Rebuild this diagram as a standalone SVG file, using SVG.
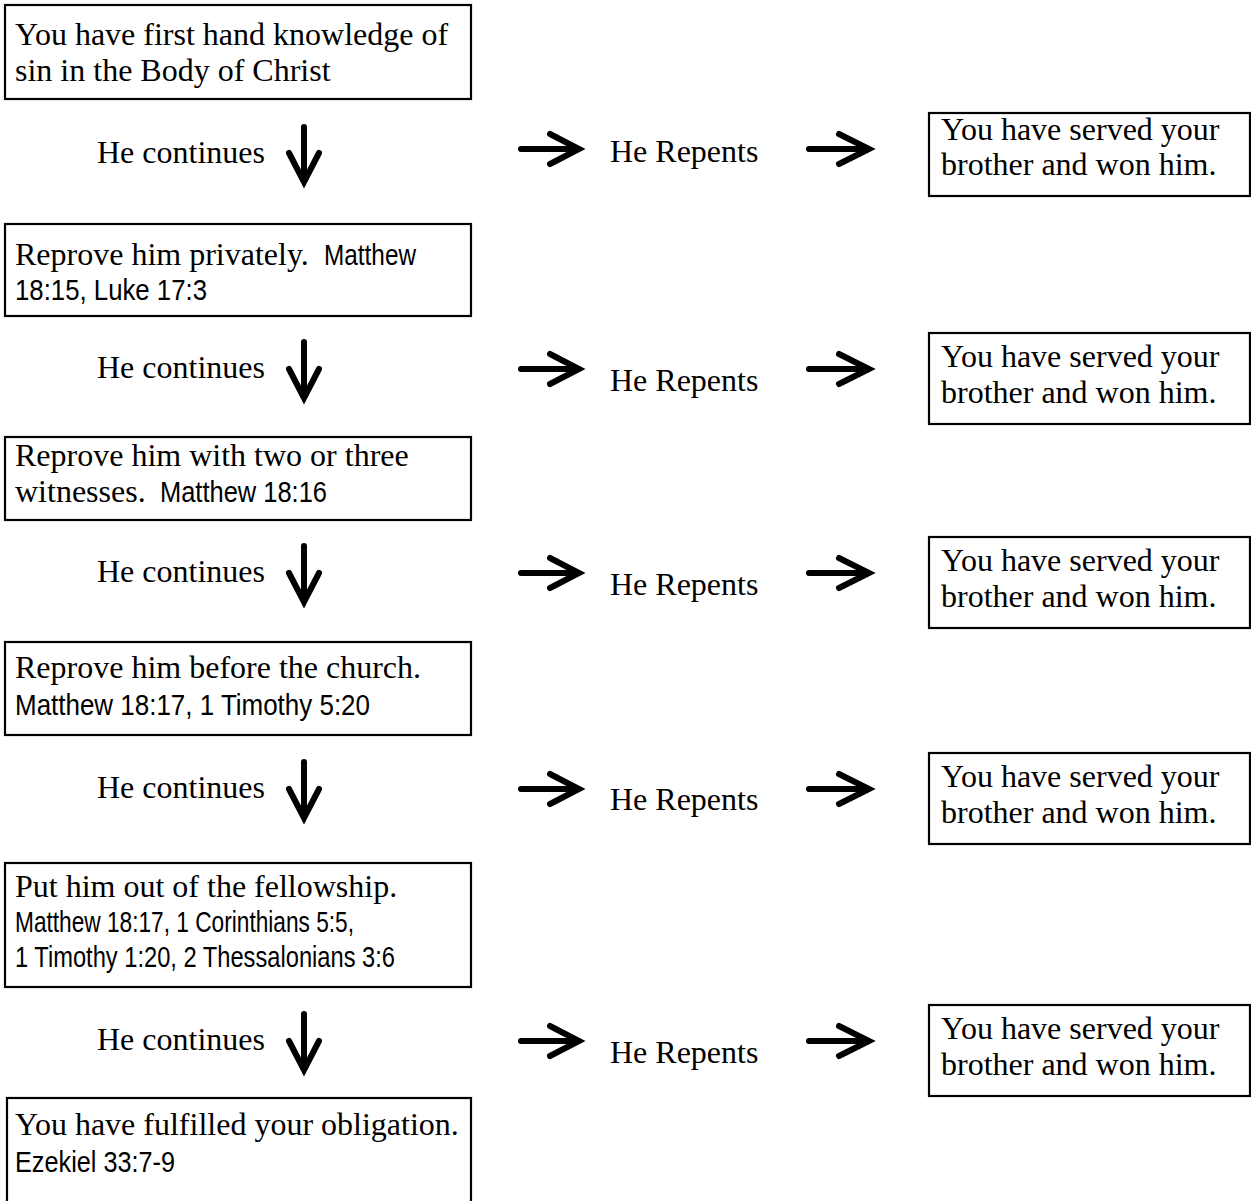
<svg xmlns="http://www.w3.org/2000/svg" width="1251" height="1201" viewBox="0 0 1251 1201">
<style>
.box{fill:#fff;stroke:#000;stroke-width:2.2}
.s{font-family:"Liberation Serif","Times New Roman",serif;font-size:32px;fill:#000}
.a{font-family:"Liberation Sans",Arial,sans-serif;font-size:29px;fill:#000}
.arr{fill:none;stroke:#000;stroke-width:6;stroke-linecap:round;stroke-linejoin:miter}
</style>
<rect width="1251" height="1201" fill="#fff"/>
<g id="box1"><rect class="box" x="5" y="5" width="466" height="94"/>
<text class="s" x="15" y="45">You have first hand knowledge of</text>
<text class="s" x="15" y="81">sin in the Body of Christ</text></g>
<g id="box2"><rect class="box" x="5" y="224" width="466" height="92"/>
<text class="s" x="15" y="265">Reprove him privately.</text>
<text class="a" x="324" y="265" textLength="92" lengthAdjust="spacingAndGlyphs">Matthew</text>
<text class="a" x="15" y="300" textLength="192" lengthAdjust="spacingAndGlyphs">18:15, Luke 17:3</text></g>
<g id="box3"><rect class="box" x="5" y="437" width="466" height="83"/>
<text class="s" x="15" y="466">Reprove him with two or three</text>
<text class="s" x="15" y="502">witnesses.</text>
<text class="a" x="160" y="502" textLength="167" lengthAdjust="spacingAndGlyphs">Matthew 18:16</text></g>
<g id="box4"><rect class="box" x="5" y="642" width="466" height="93"/>
<text class="s" x="15" y="678">Reprove him before the church.</text>
<text class="a" x="15" y="715" textLength="355" lengthAdjust="spacingAndGlyphs">Matthew 18:17, 1 Timothy 5:20</text></g>
<g id="box5"><rect class="box" x="5" y="863" width="466" height="124"/>
<text class="s" x="15" y="897">Put him out of the fellowship.</text>
<text class="a" x="15" y="932" textLength="339" lengthAdjust="spacingAndGlyphs">Matthew 18:17, 1 Corinthians 5:5,</text>
<text class="a" x="15" y="967" textLength="380" lengthAdjust="spacingAndGlyphs">1 Timothy 1:20, 2 Thessalonians 3:6</text></g>
<g id="box6"><rect class="box" x="7" y="1098" width="464" height="120"/>
<text class="s" x="15" y="1135">You have fulfilled your obligation.</text>
<text class="a" x="15" y="1172" textLength="160" lengthAdjust="spacingAndGlyphs">Ezekiel 33:7-9</text></g>
<g id="won1"><rect class="box" x="929" y="113" width="321" height="83"/>
<text class="s" x="941" y="140">You have served your</text>
<text class="s" x="941" y="175">brother and won him.</text></g>
<g id="won2"><rect class="box" x="929" y="333" width="321" height="91"/>
<text class="s" x="941" y="367">You have served your</text>
<text class="s" x="941" y="403">brother and won him.</text></g>
<g id="won3"><rect class="box" x="929" y="537" width="321" height="91"/>
<text class="s" x="941" y="571">You have served your</text>
<text class="s" x="941" y="607">brother and won him.</text></g>
<g id="won4"><rect class="box" x="929" y="753" width="321" height="91"/>
<text class="s" x="941" y="787">You have served your</text>
<text class="s" x="941" y="823">brother and won him.</text></g>
<g id="won5"><rect class="box" x="929" y="1005" width="321" height="91"/>
<text class="s" x="941" y="1039">You have served your</text>
<text class="s" x="941" y="1075">brother and won him.</text></g>
<g id="labels">
<text class="s" x="97" y="163">He continues</text>
<text class="s" x="610" y="162">He Repents</text>
<text class="s" x="97" y="378">He continues</text>
<text class="s" x="610" y="391">He Repents</text>
<text class="s" x="97" y="582">He continues</text>
<text class="s" x="610" y="595">He Repents</text>
<text class="s" x="97" y="798">He continues</text>
<text class="s" x="610" y="810">He Repents</text>
<text class="s" x="97" y="1050">He continues</text>
<text class="s" x="610" y="1063">He Repents</text>
</g>
<g id="connectors">
<path class="arr" d="M304 127V181M289 153L304 182L319 153"/>
<path class="arr" d="M521 149H576M550 134L579 149L550 164"/>
<path class="arr" d="M809 149H866M839 134L869 149L839 164"/>
<path class="arr" d="M304 342V397M289 369L304 398L319 369"/>
<path class="arr" d="M521 369H576M550 354L579 369L550 384"/>
<path class="arr" d="M809 369H866M839 354L869 369L839 384"/>
<path class="arr" d="M304 546V601M289 573L304 602L319 573"/>
<path class="arr" d="M521 573H576M550 558L579 573L550 588"/>
<path class="arr" d="M809 573H866M839 558L869 573L839 588"/>
<path class="arr" d="M304 762V817M289 789L304 818L319 789"/>
<path class="arr" d="M521 789H576M550 774L579 789L550 804"/>
<path class="arr" d="M809 789H866M839 774L869 789L839 804"/>
<path class="arr" d="M304 1014V1069M289 1041L304 1070L319 1041"/>
<path class="arr" d="M521 1041H576M550 1026L579 1041L550 1056"/>
<path class="arr" d="M809 1041H866M839 1026L869 1041L839 1056"/>
</g>
</svg>
